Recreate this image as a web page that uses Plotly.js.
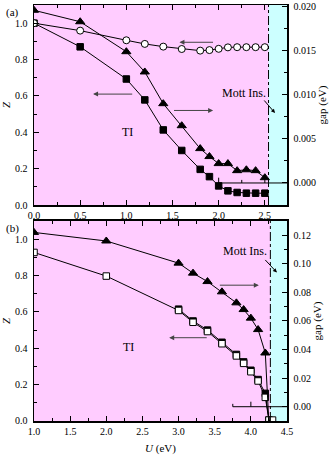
<!DOCTYPE html>
<html>
<head>
<meta charset="utf-8">
<script src="https://cdn.plot.ly/plotly-3.0.1.min.js"></script>
<style>
  html, body { margin: 0; padding: 0; background: #fff; }
  #plot { width: 332px; height: 456px; }
</style>
</head>
<body>
<div id="plot"></div>
<script>
// panel (a)
const uA = [0, 0.5, 1.0, 1.2, 1.4, 1.6, 1.8, 1.9, 2.0, 2.1, 2.2, 2.3, 2.4, 2.5];
const zCircleA = [1.0, 0.959, 0.906, 0.886, 0.871, 0.858, 0.849, 0.852, 0.859, 0.867, 0.868, 0.868, 0.868, 0.868];
const zSquareA = [1.0, 0.87, 0.693, 0.578, 0.413, 0.30, 0.196, 0.156, 0.105, 0.078, 0.069, 0.065, 0.065, 0.065];
const gapA = [0.0196, 0.0183, 0.0149, 0.0126, 0.0090, 0.0065, 0.0039, 0.0030, 0.0022, 0.0022, 0.0014, 0.0015, 0.0014, 0.0006];
const mottA = 2.54;

// panel (b)
const uOpenB = [1.0, 2.0, 3.0, 3.2, 3.4, 3.6, 3.8, 3.9, 4.0, 4.1, 4.2, 4.25, 4.3];
const zOpenB = [0.927, 0.797, 0.608, 0.543, 0.492, 0.425, 0.358, 0.317, 0.271, 0.22, 0.13, 0.005, 0.005];
const uFilledB = [3.0, 3.2, 3.4, 3.6, 3.8, 3.9, 4.0, 4.1, 4.2, 4.25];
const zFilledB = [0.615, 0.55, 0.5, 0.433, 0.366, 0.325, 0.279, 0.228, 0.152, 0.005];
const uTriB = [1.0, 2.0, 3.0, 3.2, 3.4, 3.6, 3.8, 3.9, 4.0, 4.1, 4.2, 4.25];
const gapB = [0.122, 0.116, 0.1005, 0.0935, 0.0876, 0.0804, 0.0727, 0.068, 0.062, 0.054, 0.0376, -0.012];
const mottB = 4.27;

const FONT = 'Liberation Serif, Times New Roman, serif';
const pink = '#FFCCFF';
const cyan = '#CCFFFF';

function series(x, y, xa, ya, symbol, fill, size) {
    return {
        x: x, y: y, xaxis: xa, yaxis: ya,
        type: 'scatter', mode: 'lines+markers',
        line: { color: '#000', width: 1 },
        marker: { symbol: symbol, size: size, color: fill, line: { color: '#000', width: 1 } },
        showlegend: false, hoverinfo: 'skip'
    };
}

const traces = [
    series(uA, zSquareA, 'x', 'y', 'square', '#000', 6.5),
    series(uA, zCircleA, 'x', 'y', 'circle', '#fff', 7),
    series(uA, gapA, 'x', 'y2', 'triangle-up', '#000', 8),
    series(uTriB, gapB, 'x2', 'y4', 'triangle-up', '#000', 8),
    series(uFilledB, zFilledB, 'x2', 'y3', 'square', '#000', 6.5),
    series(uOpenB, zOpenB, 'x2', 'y3', 'square', '#fff', 6.5)
];

function xAxis(range, anchor, extra) {
    return Object.assign({
        range: range, anchor: anchor, domain: [0, 1],
        dtick: 0.5, tickformat: '.1f',
        ticks: 'inside', ticklen: 5, tickwidth: 1, tickcolor: '#000',
        minor: { dtick: 0.25, ticks: 'inside', ticklen: 3, tickcolor: '#000' },
        showline: true, linewidth: 1.5, linecolor: '#000', mirror: 'ticks',
        showgrid: false, zeroline: false
    }, extra || {});
}

function yAxis(range, anchor, domain, dtick, minorDtick, fmt, extra) {
    return Object.assign({
        range: range, anchor: anchor, domain: domain,
        dtick: dtick, tick0: 0, tickformat: fmt,
        ticks: 'inside', ticklen: 5, tickwidth: 1, tickcolor: '#000',
        ticklabelstandoff: 3,
        minor: { dtick: minorDtick, ticks: 'inside', ticklen: 3, tickcolor: '#000' },
        showline: true, linewidth: 1.5, linecolor: '#000',
        showgrid: false, zeroline: false
    }, extra || {});
}

const domA = [0.5192, 1];
const domB = [0, 0.4808];

const layout = {
    width: 332, height: 456,
    margin: { l: 34, r: 45, t: 5, b: 35 },
    paper_bgcolor: '#fff',
    plot_bgcolor: pink,
    font: { family: FONT, size: 10, color: '#000' },
    showlegend: false,
    xaxis: xAxis([0, 2.74], 'y'),
    yaxis: yAxis([0, 1.1], 'x', domA, 0.2, 0.1, '.1f',
        { title: { text: '<i>Z</i>', font: { size: 11 }, standoff: 4 } }),
    yaxis2: yAxis([-0.0025, 0.0202], 'x', domA, 0.005, 0.0025, '.3f',
        { overlaying: 'y', side: 'right', title: { text: 'gap (eV)', font: { size: 11 }, standoff: 3 } }),
    xaxis2: xAxis([1, 4.5], 'y3', { tick0: 1, title: { text: '<i>U</i> (eV)', font: { size: 11 }, standoff: 9 } }),
    yaxis3: yAxis([0, 1.1], 'x2', domB, 0.2, 0.1, '.1f',
        { title: { text: '<i>Z</i>', font: { size: 11 }, standoff: 4 } }),
    yaxis4: yAxis([-0.01, 0.13], 'x2', domB, 0.02, 0.01, '.2f',
        { overlaying: 'y3', side: 'right', title: { text: 'gap (eV)', font: { size: 11 }, standoff: 3 } }),
    shapes: [
        // Mott insulator region
        { type: 'rect', xref: 'x', yref: 'y domain', x0: mottA, x1: 2.74, y0: 0, y1: 1, fillcolor: cyan, line: { width: 0 }, layer: 'below' },
        { type: 'rect', xref: 'x2', yref: 'y3 domain', x0: mottB, x1: 4.5, y0: 0, y1: 1, fillcolor: cyan, line: { width: 0 }, layer: 'below' },
        { type: 'line', xref: 'x', yref: 'y domain', x0: mottA, x1: mottA, y0: 0, y1: 1, line: { color: '#000', width: 1, dash: 'dashdot' } },
        { type: 'line', xref: 'x2', yref: 'y3 domain', x0: mottB, x1: mottB, y0: 0, y1: 1, line: { color: '#000', width: 1, dash: 'dashdot' } },
        // zero-gap reference segments
        { type: 'line', xref: 'x', yref: 'y2', x0: 2.0, x1: 2.74, y0: 0, y1: 0, line: { color: '#000', width: 1 } },
        { type: 'line', xref: 'x', yref: 'y2', x0: 2.0, x1: 2.0, y0: 0, y1: 0.0006, line: { color: '#000', width: 1 } },
        { type: 'line', xref: 'x', yref: 'y2', x0: 2.25, x1: 2.25, y0: 0, y1: 0.00035, line: { color: '#000', width: 1 } },
        { type: 'line', xref: 'x', yref: 'y2', x0: 2.5, x1: 2.5, y0: 0, y1: 0.0006, line: { color: '#000', width: 1 } },
        { type: 'line', xref: 'x2', yref: 'y4', x0: 3.75, x1: 4.5, y0: 0, y1: 0, line: { color: '#000', width: 1 } },
        { type: 'line', xref: 'x2', yref: 'y4', x0: 3.75, x1: 3.75, y0: 0, y1: 0.002, line: { color: '#000', width: 1 } },
        { type: 'line', xref: 'x2', yref: 'y4', x0: 4.0, x1: 4.0, y0: 0, y1: 0.0035, line: { color: '#000', width: 1 } }
    ],
    annotations: [
        { text: '(a)', xref: 'paper', yref: 'paper', x: -0.115, y: 1.0, xanchor: 'left', yanchor: 'top', borderpad: 0, showarrow: false, font: { size: 11 } },
        { text: '(b)', xref: 'paper', yref: 'paper', x: -0.115, y: 0.4808, xanchor: 'left', yanchor: 'top', borderpad: 0, showarrow: false, font: { size: 11 } },
        { text: 'TI', xref: 'x', yref: 'y', x: 1.01, y: 0.40, showarrow: false, font: { size: 12 } },
        { text: 'TI', xref: 'x2', yref: 'y3', x: 2.31, y: 0.408, showarrow: false, font: { size: 12 } },
        { text: 'Mott Ins.', xref: 'x', yref: 'y', x: 2.27, y: 0.616, showarrow: false, font: { size: 12 } },
        { text: 'Mott Ins.', xref: 'x2', yref: 'y3', x: 3.92, y: 0.934, showarrow: false, font: { size: 12 } },
        // arrows pointing to the relevant axis
        { text: '', xref: 'x', yref: 'y', axref: 'x', ayref: 'y', x: 0.64, y: 0.61, ax: 1.08, ay: 0.61, showarrow: true, arrowhead: 2, arrowsize: 1, arrowwidth: 1, arrowcolor: '#444' },
        { text: '', xref: 'x', yref: 'y', axref: 'x', ayref: 'y', x: 1.575, y: 0.895, ax: 1.955, ay: 0.895, showarrow: true, arrowhead: 2, arrowsize: 1, arrowwidth: 1, arrowcolor: '#444' },
        { text: '', xref: 'x', yref: 'y', axref: 'x', ayref: 'y', x: 1.94, y: 0.52, ax: 1.5, ay: 0.52, showarrow: true, arrowhead: 2, arrowsize: 1, arrowwidth: 1, arrowcolor: '#444' },
        { text: '', xref: 'x', yref: 'y', axref: 'x', ayref: 'y', x: 2.61, y: 0.506, ax: 2.48, ay: 0.583, showarrow: true, arrowhead: 2, arrowsize: 0.8, arrowwidth: 1, arrowcolor: '#000' },
        { text: '', xref: 'x2', yref: 'y3', axref: 'x2', ayref: 'y3', x: 4.11, y: 0.747, ax: 3.55, ay: 0.747, showarrow: true, arrowhead: 2, arrowsize: 1, arrowwidth: 1, arrowcolor: '#444' },
        { text: '', xref: 'x2', yref: 'y3', axref: 'x2', ayref: 'y3', x: 2.87, y: 0.458, ax: 3.41, ay: 0.458, showarrow: true, arrowhead: 2, arrowsize: 1, arrowwidth: 1, arrowcolor: '#444' },
        { text: '', xref: 'x2', yref: 'y3', axref: 'x2', ayref: 'y3', x: 4.36, y: 0.817, ax: 4.18, ay: 0.894, showarrow: true, arrowhead: 2, arrowsize: 0.8, arrowwidth: 1, arrowcolor: '#000' }
    ]
};

Plotly.newPlot('plot', traces, layout, { staticPlot: true });
</script>
</body>
</html>
